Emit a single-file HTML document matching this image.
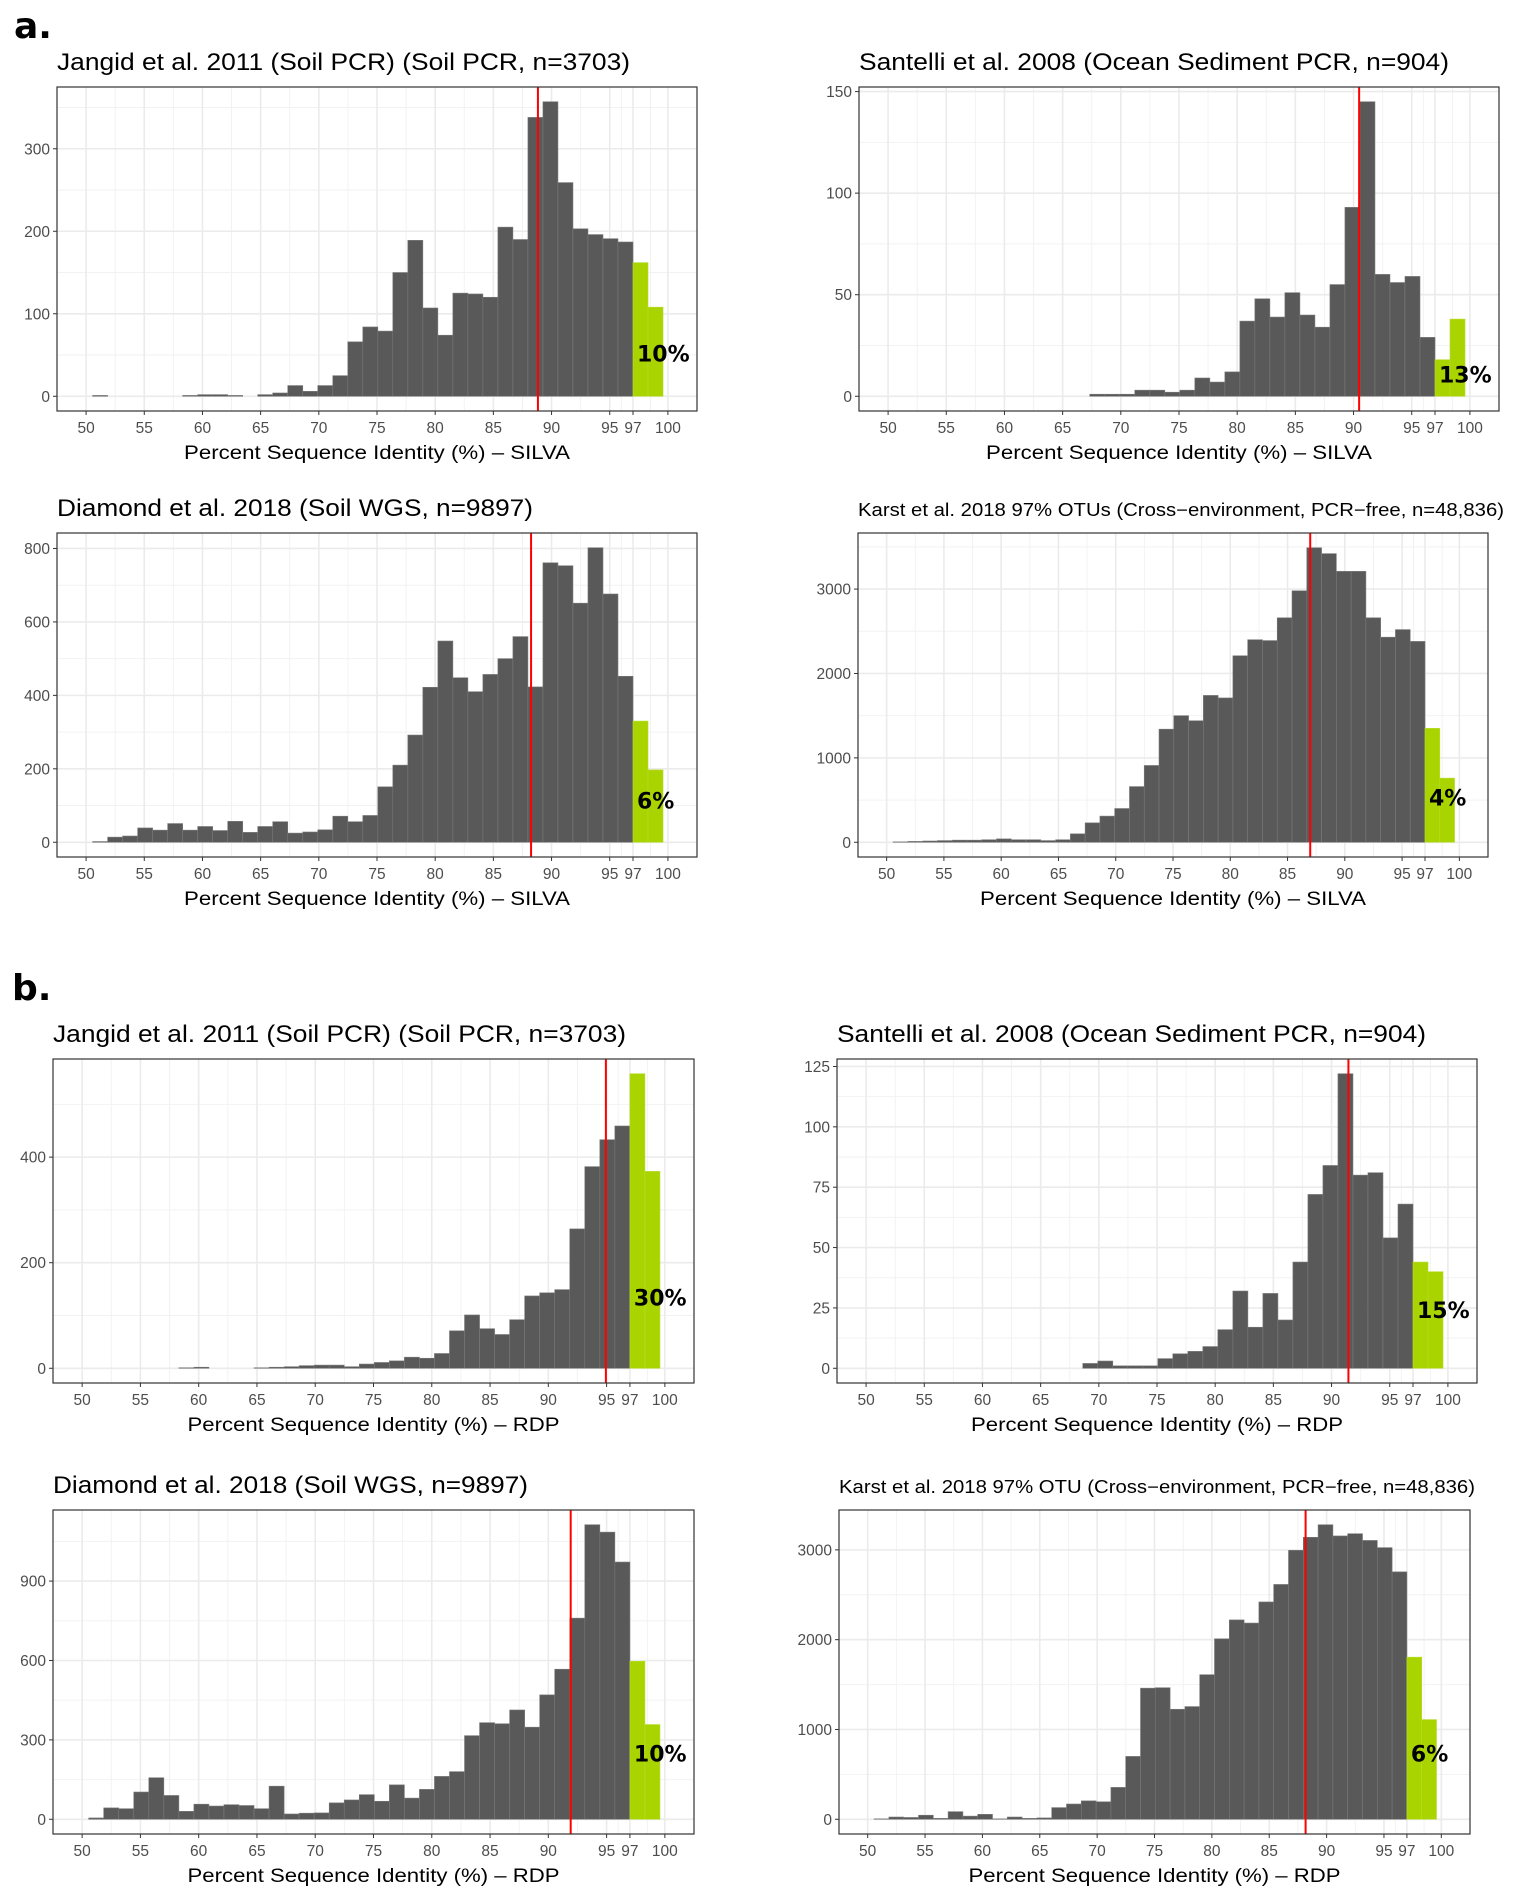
<!DOCTYPE html>
<html><head><meta charset="utf-8">
<style>
html,body{margin:0;padding:0;background:#fff;}
svg{display:block;font-family:"Liberation Sans",sans-serif;}
</style></head>
<body>
<svg id="fig" width="1518" height="1904" viewBox="0 0 1518 1904" xmlns="http://www.w3.org/2000/svg">
<text x="14" y="38" font-size="36" font-weight="bold" font-family="DejaVu Sans, sans-serif">a.</text>
<text x="12" y="1000" font-size="36" font-weight="bold" font-family="DejaVu Sans, sans-serif">b.</text>
</svg>
<script>
// ---- data ----
const binStart = 50.56;
const binWidth = 1.29;
const xTickValues = [50,55,60,65,70,75,80,85,90,95,97,100];
const xTickLabels = ["50","55","60","65","70","75","80","85","90","95","97","100"];
const xMinorValues = [52.5,57.5,62.5,67.5,72.5,77.5,82.5,87.5,92.5,96,98.5];

const a1Counts = [1,0,0,0,0,0,1,2,2,1,0,2,4,13,6,13,25,66,84,79,150,189,107,74,125,124,120,205,190,338,357,259,203,196,191,187];
const a1Green = [162,108];
const a2Counts = [0,0,0,0,0,0,0,0,0,0,0,0,0,1,1,1,3,3,2,3,9,7,12,37,48,39,51,40,34,55,93,145,60,56,59,29];
const a2Green = [18,38];
const a3Counts = [2,14,17,39,33,51,33,43,32,57,27,43,56,25,28,34,71,56,73,151,210,292,422,548,448,410,457,500,560,423,761,753,651,802,676,452];
const a3Green = [330,197];
const a4Counts = [5,10,15,20,25,25,30,40,30,30,20,30,100,230,310,400,660,910,1340,1500,1440,1740,1710,2210,2400,2390,2660,2980,3490,3420,3210,3210,2660,2430,2520,2380];
const a4Green = [1350,760];
const b1Counts = [0,0,0,0,0,0,1,2,0,0,0,1,2,3,5,6,6,3,8,11,14,21,19,28,71,101,75,64,92,137,143,149,264,382,433,459];
const b1Green = [558,373];
const b2Counts = [0,0,0,0,0,0,0,0,0,0,0,0,0,0,2,3,1,1,1,4,6,7,9,16,32,17,31,20,44,72,84,122,80,81,54,68];
const b2Green = [44,40];
const b3Counts = [5,43,40,103,157,90,30,57,50,55,52,40,125,20,23,24,62,73,93,68,130,80,113,162,180,316,365,361,413,348,470,567,760,1113,1085,972];
const b3Green = [597,358];
const b4Counts = [5,25,20,45,10,85,35,55,5,25,10,15,130,170,205,195,355,700,1460,1465,1225,1255,1610,2010,2220,2185,2420,2615,2995,3140,3280,3155,3180,3105,3025,2755];
const b4Green = [1805,1110];

const redLines = [88.83,90.48,88.24,86.98,94.94,91.45,91.92,88.17];
const pctLabels = ["10%","13%","6%","4%","30%","15%","10%","6%"];
const pctLabelY = [50,10,109,513,131,23.5,243,715];

const a1YTicks = [0,100,200,300];
const a2YTicks = [0,50,100,150];
const a3YTicks = [0,200,400,600,800];
const a4YTicks = [0,1000,2000,3000];
const b1YTicks = [0,200,400];
const b2YTicks = [0,25,50,75,100,125];
const b3YTicks = [0,300,600,900];
const b4YTicks = [0,1000,2000,3000];

const titles = [
 "Jangid et al. 2011 (Soil PCR) (Soil PCR, n=3703)",
 "Santelli et al. 2008 (Ocean Sediment PCR, n=904)",
 "Diamond et al. 2018 (Soil WGS, n=9897)",
 "Karst et al. 2018 97% OTUs (Cross\u2212environment, PCR\u2212free, n=48,836)",
 "Jangid et al. 2011 (Soil PCR) (Soil PCR, n=3703)",
 "Santelli et al. 2008 (Ocean Sediment PCR, n=904)",
 "Diamond et al. 2018 (Soil WGS, n=9897)",
 "Karst et al. 2018 97% OTU (Cross\u2212environment, PCR\u2212free, n=48,836)"
];

// ---- layout ----
const panels = [
 {id:"a1",c:a1Counts,g:a1Green,yt:a1YTicks,L:57,R:697,T:87,B:411,tw:573,ts:24,ax:"SILVA"},
 {id:"a2",c:a2Counts,g:a2Green,yt:a2YTicks,L:859,R:1499,T:87,B:411,tw:590,ts:24,ax:"SILVA"},
 {id:"a3",c:a3Counts,g:a3Green,yt:a3YTicks,L:57,R:697,T:533,B:857,tw:476,ts:24,ax:"SILVA"},
 {id:"a4",c:a4Counts,g:a4Green,yt:a4YTicks,L:858,R:1488,T:533,B:857,tw:646,ts:18,ax:"SILVA"},
 {id:"b1",c:b1Counts,g:b1Green,yt:b1YTicks,L:53,R:694,T:1059,B:1383,tw:573,ts:24,ax:"RDP"},
 {id:"b2",c:b2Counts,g:b2Green,yt:b2YTicks,L:837,R:1477,T:1059,B:1383,tw:589,ts:24,ax:"RDP"},
 {id:"b3",c:b3Counts,g:b3Green,yt:b3YTicks,L:53,R:694,T:1510,B:1834,tw:475,ts:24,ax:"RDP"},
 {id:"b4",c:b4Counts,g:b4Green,yt:b4YTicks,L:839,R:1470,T:1510,B:1834,tw:636,ts:18,ax:"RDP"}
];
const XMIN = 47.5, XMAX = 102.5;
const NS = "http://www.w3.org/2000/svg";
const svg = document.getElementById("fig");
function mk(tag, attrs, parent){
  const e = document.createElementNS(NS, tag);
  for (const k in attrs) e.setAttribute(k, attrs[k]);
  (parent||svg).appendChild(e);
  return e;
}

panels.forEach(function(p, pi){
  const g = mk("g", {});
  
  
  const allVals = p.c.concat(p.g);
  const M = Math.max.apply(null, allVals);
  const yLo = -0.05*M, yHi = 1.05*M;
  const xs = v => p.L + (v - XMIN)/(XMAX - XMIN)*(p.R - p.L);
  const ys = v => p.B - (v - yLo)/(yHi - yLo)*(p.B - p.T);

  mk("rect", {x:p.L, y:p.T, width:p.R-p.L, height:p.B-p.T, fill:"#fff"}, g);
  // minor grid
  xMinorValues.forEach(v => mk("line",{x1:xs(v),x2:xs(v),y1:p.T,y2:p.B,stroke:"#f2f2f2","stroke-width":1},g));
  const step = p.yt[1]-p.yt[0];
  for (let v = p.yt[0]+step/2; v < yHi; v += step) mk("line",{x1:p.L,x2:p.R,y1:ys(v),y2:ys(v),stroke:"#f2f2f2","stroke-width":1},g);
  // major grid
  xTickValues.forEach(v => mk("line",{x1:xs(v),x2:xs(v),y1:p.T,y2:p.B,stroke:"#ebebeb","stroke-width":1.6},g));
  p.yt.forEach(v => mk("line",{x1:p.L,x2:p.R,y1:ys(v),y2:ys(v),stroke:"#ebebeb","stroke-width":1.6},g));

  // bars
  p.c.forEach(function(v,i){
    if (v <= 0) return;
    const x0 = binStart + i*binWidth;
    const r = mk("rect",{x:xs(x0), y:ys(v), width:xs(x0+binWidth)-xs(x0), height:ys(0)-ys(v), fill:"#595959", stroke:"#7a7a7a","stroke-width":0.6},g);
    
    
  });
  p.g.forEach(function(v,i){
    const x0 = binStart + (p.c.length + i)*binWidth;
    const r = mk("rect",{x:xs(x0), y:ys(v), width:xs(x0+binWidth)-xs(x0), height:ys(0)-ys(v), fill:"#aad400", stroke:"#b8dc30","stroke-width":0.6},g);
    
    
  });
  // red line
  const rl = mk("line",{x1:xs(redLines[pi]),x2:xs(redLines[pi]),y1:p.T,y2:p.B,stroke:"#ff0000","stroke-width":2},g);
  
  
  // pct label
  const pl = mk("text",{x:xs(97)+4, y:ys(pctLabelY[pi]), "font-size":22, "font-weight":"bold", "font-family":"DejaVu Sans, sans-serif", "dominant-baseline":"central", fill:"#000"},g);
  pl.textContent = pctLabels[pi];
  
  
  // border
  mk("rect",{x:p.L, y:p.T, width:p.R-p.L, height:p.B-p.T, fill:"none", stroke:"#333","stroke-width":1.2},g);
  // x ticks
  xTickValues.forEach(function(v,i){
    mk("line",{x1:xs(v),x2:xs(v),y1:p.B,y2:p.B+4,stroke:"#333","stroke-width":1},g);
    const t = mk("text",{x:xs(v), y:p.B+22, "font-size":15.5, fill:"#4d4d4d","text-anchor":"middle"},g);
    t.textContent = xTickLabels[i];
    
    
  });
  // y ticks
  p.yt.forEach(function(v){
    mk("line",{x1:p.L-4,x2:p.L,y1:ys(v),y2:ys(v),stroke:"#333","stroke-width":1},g);
    const t = mk("text",{x:p.L-7, y:ys(v)+5.5, "font-size":15.5, fill:"#4d4d4d","text-anchor":"end"},g);
    t.textContent = String(v);
    
    
  });
  // title
  const tt = mk("text",{x:p.L, y:p.T-17, "font-size":p.ts, fill:"#000", textLength:p.tw, lengthAdjust:"spacingAndGlyphs"},g);
  tt.textContent = titles[pi];
  
  
  // axis title
  const at = mk("text",{x:(p.L+p.R)/2, y:p.B+48, "font-size":19, fill:"#000","text-anchor":"middle", textLength:(p.ax==="SILVA"?386:372), lengthAdjust:"spacingAndGlyphs"},g);
  at.textContent = "Percent Sequence Identity (%) \u2013 " + p.ax;
  
  
});
</script>
</body></html>
